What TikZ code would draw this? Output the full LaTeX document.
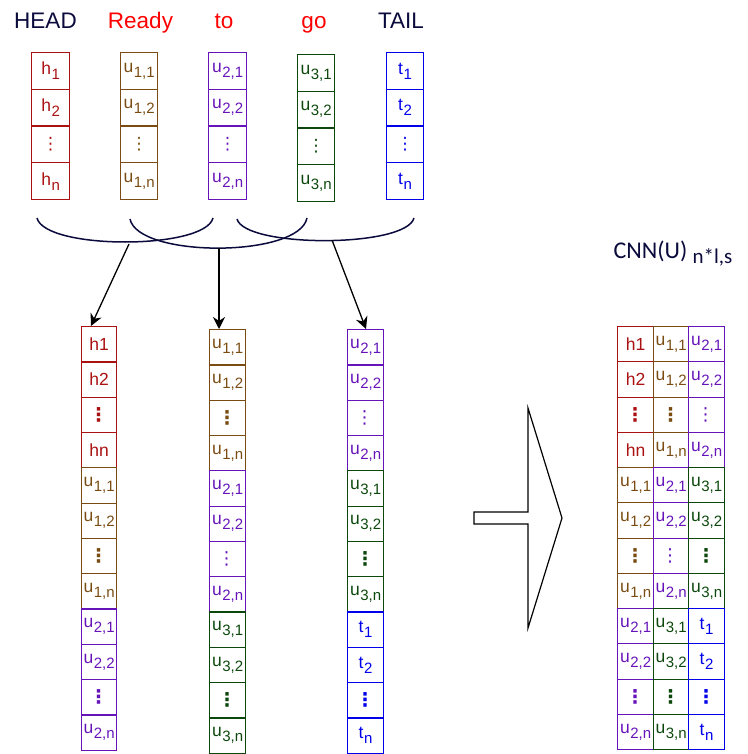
\documentclass[tikz,border=0pt]{standalone}
\usepackage{fontspec}
\setmainfont{Liberation Sans}
\newfontfamily\dvs{DejaVu Sans}
\newfontfamily\carl{Carlito}
\usetikzlibrary{arrows.meta}
\definecolor{cr}{RGB}{170,17,17}
\definecolor{cb}{RGB}{122,76,18}
\definecolor{cp}{RGB}{102,20,185}
\definecolor{cg}{RGB}{12,72,12}
\definecolor{ct}{RGB}{0,0,235}
\definecolor{navy}{RGB}{10,10,60}
\definecolor{lred}{RGB}{255,0,0}
\newcommand\sbx[1]{\kern0.6pt\raisebox{-5pt}{\fontsize{15}{15}\selectfont #1}}
\newcommand\vd{\makebox[20pt][l]{\dvs\fontsize{18}{18}\selectfont ⋮}}
\newcommand\vdb{\makebox[20pt][l]{\dvs\bfseries\fontsize{19}{19}\selectfont ⋮}}
\newcommand\vdc{{\dvs\fontsize{17}{17}\selectfont ⋮}}
\tikzset{
  cell/.style={draw, line width=1.2pt, inner sep=0pt, anchor=north west,
    font=\fontsize{17.5}{17.5}\selectfont},
  title/.style={anchor=base, font=\fontsize{22.5}{22.5}\selectfont},
  brace/.style={draw=navy, line width=1.5pt},
  arr/.style={draw=black, line width=1.3pt, -{Stealth[length=12pt,width=12pt]}}
}
\begin{document}
\begin{tikzpicture}[x=1pt,y=-1pt]
\useasboundingbox (0,0) rectangle (747,754);
% titles
\node[title, text=navy] (tHead) at (45.5,28.5) {HEAD};
\node[title, text=lred] (tReady) at (140.5,28.5) {Ready};
\node[title, text=lred] (tTo) at (224,28.5) {to};
\node[title, text=lred] (tGo) at (314,28.5) {go};
\node[title, text=navy] (tTail) at (401,28.5) {TAIL};
% top row columns
\foreach \lab [count=\i] in {h\sbx{1}, h\sbx{2}, \vdc, h\sbx{n}}
  \node[cell, draw=cr, text=cr, minimum width=38pt, minimum height=36.75pt] (H\i) at (31,{52+(\i-1)*36.75}) {\lab};
\foreach \lab [count=\i] in {u\sbx{1,1}, u\sbx{1,2}, \vdc, u\sbx{1,n}}
  \node[cell, draw=cb, text=cb, minimum width=37pt, minimum height=36.75pt] (U\i) at (120,{52+(\i-1)*36.75}) {\lab};
\foreach \lab [count=\i] in {u\sbx{2,1}, u\sbx{2,2}, \vdc, u\sbx{2,n}}
  \node[cell, draw=cp, text=cp, minimum width=38pt, minimum height=36.75pt] (V\i) at (208,{52+(\i-1)*36.75}) {\lab};
\foreach \lab [count=\i] in {u\sbx{3,1}, u\sbx{3,2}, \vdc, u\sbx{3,n}}
  \node[cell, draw=cg, text=cg, minimum width=37pt, minimum height=36.75pt] (W\i) at (297,{54+(\i-1)*36.75}) {\lab};
\foreach \lab [count=\i] in {t\sbx{1}, t\sbx{2}, \vdc, t\sbx{n}}
  \node[cell, draw=ct, text=ct, minimum width=37pt, minimum height=36.75pt] (T\i) at (386,{52+(\i-1)*36.75}) {\lab};
% braces
\coordinate (b1s) at (37,218); \coordinate (b1e) at (213,218);
\coordinate (b2s) at (130,219); \coordinate (b2e) at (307,218);
\coordinate (b3s) at (237,219); \coordinate (b3e) at (414,218);
\draw[brace] (b1s) .. controls (45,250) and (205,250) .. (b1e);
\draw[brace] (b2s) .. controls (138,258) and (299,258) .. (b2e);
\draw[brace] (b3s) .. controls (245,248) and (406,248) .. (b3e);
\coordinate (k1) at (129,244);
\coordinate (k2) at (219,248);
\coordinate (k3) at (332,240);
% middle columns
\foreach \lab/\c [count=\i] in {h1/cr, h2/cr, \vdb/cr, hn/cr, u\sbx{1,1}/cb, u\sbx{1,2}/cb, \vdb/cb, u\sbx{1,n}/cb, u\sbx{2,1}/cp, u\sbx{2,2}/cp, \vdb/cp, u\sbx{2,n}/cp}
  \node[cell, draw=\c, text=\c, minimum width=35pt, minimum height=35.3pt] (A\i) at (81,{326+(\i-1)*35.3}) {\lab};
\foreach \lab/\c [count=\i] in {u\sbx{1,1}/cb, u\sbx{1,2}/cb, \vdb/cb, u\sbx{1,n}/cb, u\sbx{2,1}/cp, u\sbx{2,2}/cp, \vd/cp, u\sbx{2,n}/cp, u\sbx{3,1}/cg, u\sbx{3,2}/cg, \vdb/cg, u\sbx{3,n}/cg}
  \node[cell, draw=\c, text=\c, minimum width=36pt, minimum height=35.3pt] (B\i) at (209,{329+(\i-1)*35.3}) {\lab};
\foreach \lab/\c [count=\i] in {u\sbx{2,1}/cp, u\sbx{2,2}/cp, \vd/cp, u\sbx{2,n}/cp, u\sbx{3,1}/cg, u\sbx{3,2}/cg, \vdb/cg, u\sbx{3,n}/cg, t\sbx{1}/ct, t\sbx{2}/ct, \vdb/ct, t\sbx{n}/ct}
  \node[cell, draw=\c, text=\c, minimum width=36pt, minimum height=35.3pt] (C\i) at (347,{329+(\i-1)*35.3}) {\lab};
% arrows
\draw[arr] (k1) -- ([xshift=10pt]A1.north west);
\draw[arr] (k2) -- ([xshift=10pt]B1.north west);
\draw[arr] (k3) -- ([xshift=19pt]C1.north west);
% big arrow
\draw[line width=1.2pt, line join=miter] (474,512) -- (528,512) -- (528,408) -- (562,518) -- (528,628) -- (528,524) -- (474,524) -- cycle;
% CNN label
\node[anchor=base west, text=navy, font=\carl\fontsize{24}{24}\selectfont] (cnn) at (610,258) {CNN(U) \raisebox{-5pt}{\fontsize{21}{21}\selectfont n*l,s}};
% right block
\foreach \lab/\c [count=\i] in {h1/cr, h2/cr, \vdb/cr, hn/cr, u\sbx{1,1}/cb, u\sbx{1,2}/cb, \vdb/cb, u\sbx{1,n}/cb, u\sbx{2,1}/cp, u\sbx{2,2}/cp, \vdb/cp, u\sbx{2,n}/cp}
  \node[cell, draw=\c, text=\c, minimum width=36pt, minimum height=35.25pt] (R\i) at (617,{326+(\i-1)*35.25}) {\lab};
\foreach \lab/\c [count=\i] in {u\sbx{1,1}/cb, u\sbx{1,2}/cb, \vdb/cb, u\sbx{1,n}/cb, u\sbx{2,1}/cp, u\sbx{2,2}/cp, \vd/cp, u\sbx{2,n}/cp, u\sbx{3,1}/cg, u\sbx{3,2}/cg, \vdb/cg, u\sbx{3,n}/cg}
  \node[cell, draw=\c, text=\c, minimum width=35pt, minimum height=35.25pt] (S\i) at (653,{326+(\i-1)*35.25}) {\lab};
\foreach \lab/\c [count=\i] in {u\sbx{2,1}/cp, u\sbx{2,2}/cp, \vd/cp, u\sbx{2,n}/cp, u\sbx{3,1}/cg, u\sbx{3,2}/cg, \vdb/cg, u\sbx{3,n}/cg, t\sbx{1}/ct, t\sbx{2}/ct, \vdb/ct, t\sbx{n}/ct}
  \node[cell, draw=\c, text=\c, minimum width=36pt, minimum height=35.25pt] (Q\i) at (688,{326+(\i-1)*35.25}) {\lab};
\end{tikzpicture}
\end{document}
